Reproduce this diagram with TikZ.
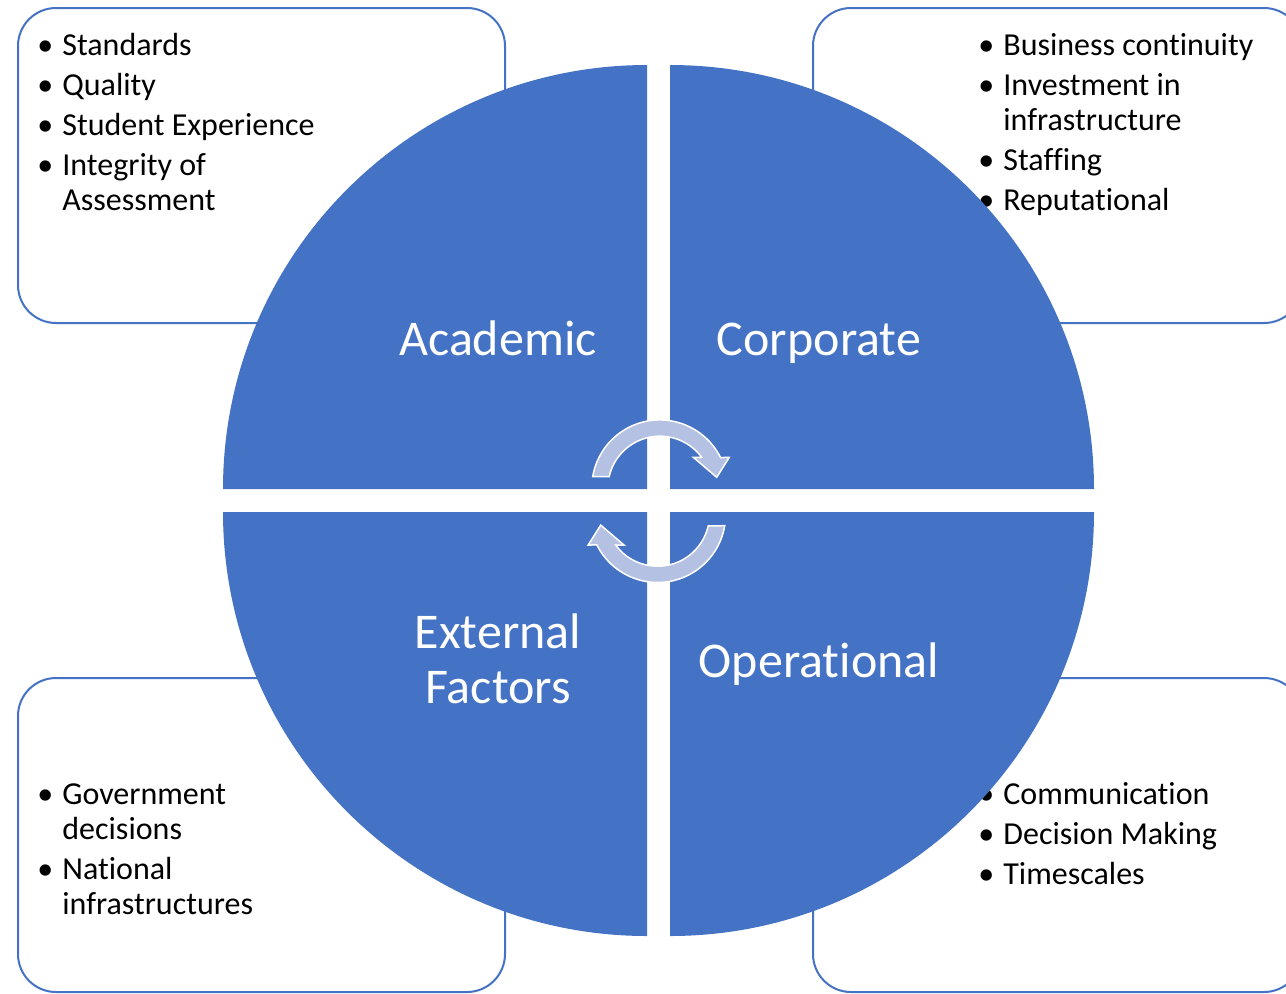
\documentclass[tikz,border=0pt]{standalone}
\usepackage{fontspec}
\setmainfont{Carlito}[Ligatures={NoCommon}]
\definecolor{accent}{RGB}{68,114,196}
\definecolor{arrowfill}{RGB}{180,193,226}
\newcommand{\bl}{\makebox[0pt]{\textbullet}}
\begin{document}
\begin{tikzpicture}[x=0.5pt,y=-0.5pt,
  infobox/.style={draw=accent, line width=1pt, fill=white, rounded corners=19pt},
  quad/.style={fill=accent},
  cyc/.style={fill=arrowfill, draw=white, line width=0.75pt, line join=miter},
  qlabel/.style={text=white, font=\fontsize{25pt}{27.5pt}\selectfont, align=center, inner sep=0pt},
  blist/.style={anchor=base west, inner sep=0pt, font=\fontsize{16pt}{17.5pt}\selectfont}]
\clip (0,0) rectangle (1286,993);
\fill[white] (0,0) rectangle (1286,993);
% info boxes
\draw[infobox] (18,8) rectangle (505,323);
\draw[infobox] (813,8) rectangle (1302,323);
\draw[infobox] (18,678) rectangle (505,992);
\draw[infobox] (813,678) rectangle (1302,992);
% bullet lists
\node[blist] (tl) at (45,55) {\begin{tabular}[t]{@{}c@{\hspace{8.5pt}}l@{}}
\bl & Standards\\[2.5pt]
\bl & Quality\\[2.5pt]
\bl & Student Experience\\[2.5pt]
\bl & Integrity of\\
 & Assessment
\end{tabular}};
\node[blist] (tr) at (986,55) {\begin{tabular}[t]{@{}c@{\hspace{8.5pt}}l@{}}
\bl & Business continuity\\[2.5pt]
\bl & Investment in\\
 & infrastructure\\[2.5pt]
\bl & Staffing\\[2.5pt]
\bl & Reputational
\end{tabular}};
\node[blist] (bll) at (45,804) {\begin{tabular}[t]{@{}c@{\hspace{8.5pt}}l@{}}
\bl & Government\\
 & decisions\\[2.5pt]
\bl & National\\
 & infrastructures
\end{tabular}};
\node[blist] (brl) at (986,804) {\begin{tabular}[t]{@{}c@{\hspace{8.5pt}}l@{}}
\bl & Communication\\[2.5pt]
\bl & Decision Making\\[2.5pt]
\bl & Timescales
\end{tabular}};
% quadrants
\fill[quad] (647,489) -- (223,489) arc[start angle=180,end angle=270,radius=424] -- cycle;
\fill[quad] (670,489) -- (670,65) arc[start angle=270,end angle=360,radius=424] -- cycle;
\fill[quad] (670,512) -- (1094,512) arc[start angle=0,end angle=90,radius=424] -- cycle;
\fill[quad] (647,512) -- (647,936) arc[start angle=90,end angle=180,radius=424] -- cycle;
% circular arrows
\filldraw[cyc] (592.7,476.7) arc[start angle=189.5,end angle=333.5,radius=68]
  -- (729.3,457.3) -- (716.7,477.3) -- (693.3,457.3) -- (701.7,457.3)
  arc[start angle=323.6,end angle=192.9,radius=52] -- cycle;
\begin{scope}[rotate around={180:(658.7,501.2)}]
\filldraw[cyc] (592.7,476.7) arc[start angle=189.5,end angle=333.5,radius=68]
  -- (729.3,457.3) -- (716.7,477.3) -- (693.3,457.3) -- (701.7,457.3)
  arc[start angle=323.6,end angle=192.9,radius=52] -- cycle;
\end{scope}
% quadrant labels
\node[qlabel, anchor=base] (acad) at (498,355) {Academic};
\node[qlabel, anchor=base] (corp) at (819,355) {Corporate};
\node[qlabel] (ext) at (498,659) {External\\Factors};
\node[qlabel, anchor=base] (oper) at (819,677) {Operational};
\end{tikzpicture}
\end{document}
